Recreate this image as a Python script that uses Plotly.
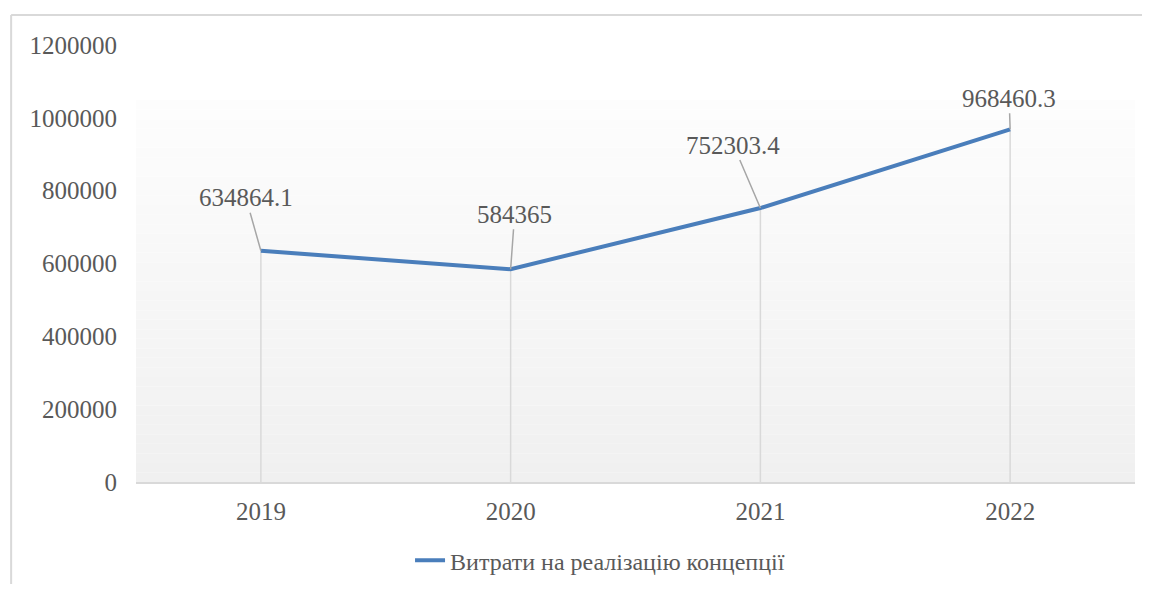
import plotly.graph_objects as go

years = ['2019', '2020', '2021', '2022']
spending = [634864.1, 584365, 752303.4, 968460.3]
value_labels = ['634864.1', '584365', '752303.4', '968460.3']
series_name = 'Витрати на реалізацію концепції'
y_ticks = [0, 200000, 400000, 600000, 800000, 1000000, 1200000]

# label offsets in px relative to the point (leader lines)
label_offsets = [(-15, -53), (4, -55), (-27, -63), (-1, -31)]

font_family = 'Liberation Serif'
text_color = '#595959'
line_color = '#4a7ebb'
fs = 25

fig = go.Figure()

# vertical drop lines from each point to the axis
drop_x, drop_y = [], []
for i, v in enumerate(spending):
    drop_x += [i, i, None]
    drop_y += [0, v, None]
fig.add_trace(go.Scatter(
    x=drop_x, y=drop_y, mode='lines',
    line=dict(color='#d9d9d9', width=1.5),
    showlegend=False, hoverinfo='skip'
))

fig.add_trace(go.Scatter(
    x=list(range(len(years))), y=spending, mode='lines', name=series_name,
    line=dict(color=line_color, width=4)
))

# data labels with leader lines
for i, (v, lab, (dx, dy)) in enumerate(zip(spending, value_labels, label_offsets)):
    fig.add_annotation(
        x=i, y=v, xref='x', yref='y', text=lab, showarrow=True, arrowhead=0,
        arrowcolor='#a6a6a6', arrowwidth=1.5, ax=dx, ay=dy,
        font=dict(family=font_family, size=fs, color=text_color),
        borderpad=1
    )

# plot area gradient (white at top, light grey at bottom)
shapes = []
n = 40
top = 0.874
for i in range(n):
    t = i / (n - 1)
    c = int(round(240 + (253 - 240) * t))
    shapes.append(dict(
        type='rect', xref='paper', yref='paper',
        x0=0, x1=1, y0=top * i / n, y1=top * (i + 1) / n,
        fillcolor=f'rgb({c},{c},{c})', line_width=0, layer='below'
    ))
# chart outer border (left and top edges only, the rest runs off the page)
border = dict(color='#d9d9d9', width=2)
shapes.append(dict(type='line', xref='paper', yref='paper',
                   x0=-0.125, x1=-0.125, y0=-0.5, y1=1.0686, line=border))
shapes.append(dict(type='line', xref='paper', yref='paper',
                   x0=-0.125, x1=1.2, y0=1.0686, y1=1.0686, line=border))

fig.update_layout(
    width=1134, height=576,
    margin=dict(l=128, r=7, t=37, b=102, autoexpand=False),
    paper_bgcolor='white', plot_bgcolor='rgba(0,0,0,0)',
    font=dict(family=font_family, size=fs, color=text_color),
    shapes=shapes,
    showlegend=True,
    legend=dict(
        orientation='h', x=0.4645, y=-0.18, xanchor='center', yanchor='middle',
        font=dict(family=font_family, size=24, color=text_color),
        bgcolor='rgba(0,0,0,0)'
    ),
    xaxis=dict(
        range=[-0.5, 3.5], tickvals=list(range(len(years))), ticktext=years,
        showgrid=False, zeroline=False,
        showline=True, linecolor='#d9d9d9', linewidth=2,
        ticks='', ticklabelstandoff=6,
        tickfont=dict(family=font_family, size=fs, color=text_color)
    ),
    yaxis=dict(
        range=[0, 1200000], tickvals=y_ticks,
        ticktext=[str(v) for v in y_ticks],
        showgrid=False, zeroline=False, showline=False,
        ticks='', ticklabelstandoff=18,
        tickfont=dict(family=font_family, size=fs, color=text_color)
    ),
    hovermode=False
)

fig.write_html('out.html')
